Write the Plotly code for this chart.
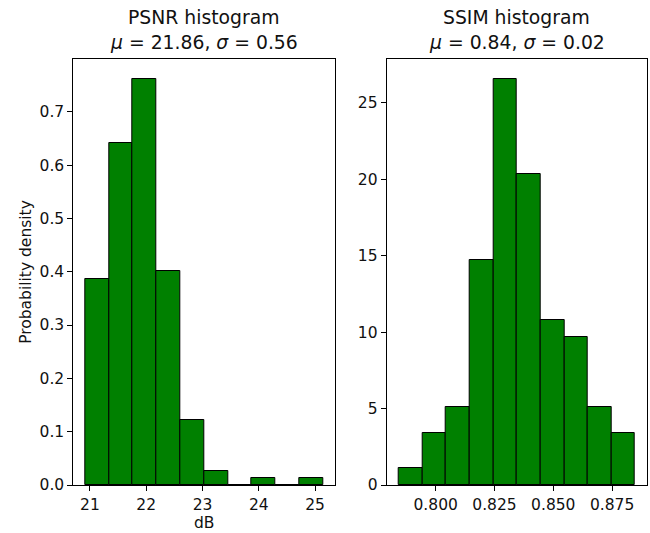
import plotly.graph_objects as go

# ---- data ----
psnr_edges = [20.916, 21.339, 21.761, 22.184, 22.606, 23.029, 23.452, 23.874, 24.297, 24.719, 25.142]
psnr_density = [0.387, 0.642, 0.761, 0.402, 0.121, 0.027, 0.0, 0.013, 0.0, 0.013]
ssim_edges = [0.7842, 0.7944, 0.8043, 0.8144, 0.8245, 0.8346, 0.8446, 0.8547, 0.8647, 0.8749, 0.8846]
ssim_density = [1.13, 3.38, 5.10, 14.69, 26.53, 20.34, 10.79, 9.66, 5.10, 3.38]
psnr_title = ["PSNR histogram", "<i>μ</i> = 21.86, <i>σ</i> = 0.56"]
ssim_title = ["SSIM histogram", "<i>μ</i> = 0.84, <i>σ</i> = 0.02"]
psnr_xticks = [21, 22, 23, 24, 25]
psnr_yticks = [0.0, 0.1, 0.2, 0.3, 0.4, 0.5, 0.6, 0.7]
ssim_xticks = [0.800, 0.825, 0.850, 0.875]
ssim_yticks = [0, 5, 10, 15, 20, 25]


def centers(edges):
    return [(a + b) / 2 for a, b in zip(edges[:-1], edges[1:])]


def widths(edges):
    return [b - a for a, b in zip(edges[:-1], edges[1:])]


W, H = 650, 533
FONT = "DejaVu Sans"
TICK = 15.5
TITLE = 18.8

fig = go.Figure()
fig.add_trace(go.Bar(x=centers(psnr_edges), y=psnr_density, width=widths(psnr_edges),
                     marker=dict(color="#008000", line=dict(color="black", width=1)),
                     xaxis="x", yaxis="y", showlegend=False))
fig.add_trace(go.Bar(x=centers(ssim_edges), y=ssim_density, width=widths(ssim_edges),
                     marker=dict(color="#008000", line=dict(color="black", width=1)),
                     xaxis="x2", yaxis="y2", showlegend=False))

ydom = [(H - 485) / H, (H - 59) / H]
axis_common = dict(showline=True, linecolor="black", linewidth=1, mirror=True,
                   ticks="outside", ticklen=5, tickwidth=1, tickcolor="black",
                   showgrid=False, zeroline=False, automargin=False,
                   tickfont=dict(family=FONT, size=TICK, color="#111"))

psnr_xmin = psnr_edges[0] - 0.05 * (psnr_edges[-1] - psnr_edges[0])
psnr_xmax = psnr_edges[-1] + 0.05 * (psnr_edges[-1] - psnr_edges[0])
ssim_xmin = ssim_edges[0] - 0.05 * (ssim_edges[-1] - ssim_edges[0])
ssim_xmax = ssim_edges[-1] + 0.05 * (ssim_edges[-1] - ssim_edges[0])

fig.update_layout(
    width=W, height=H,
    margin=dict(l=0, r=0, t=0, b=0, autoexpand=False),
    paper_bgcolor="white", plot_bgcolor="white",
    bargap=0,
    font=dict(family=FONT, color="#111"),
    xaxis=dict(domain=[73.3 / W, 335 / W], range=[psnr_xmin, psnr_xmax],
               tickvals=psnr_xticks, ticktext=[str(v) for v in psnr_xticks],
               anchor="y",
               title=dict(text="dB", font=dict(family=FONT, size=TICK), standoff=0),
               **axis_common),
    yaxis=dict(domain=ydom, range=[0, max(psnr_density) * 1.05],
               tickvals=psnr_yticks, ticktext=[f"{v:.1f}" for v in psnr_yticks],
               anchor="x",
               title=dict(text="Probability density", font=dict(family=FONT, size=TICK), standoff=4),
               **axis_common),
    xaxis2=dict(domain=[386.7 / W, 646.5 / W], range=[ssim_xmin, ssim_xmax],
                tickvals=ssim_xticks, ticktext=[f"{v:.3f}" for v in ssim_xticks],
                anchor="y2", **axis_common),
    yaxis2=dict(domain=ydom, range=[0, max(ssim_density) * 1.05],
                tickvals=ssim_yticks, ticktext=[str(v) for v in ssim_yticks],
                anchor="x2", **axis_common),
)

annots = []
for title, (a, b) in ((psnr_title, (73.3, 335)), (ssim_title, (386.7, 646.5))):
    cx = (a + b) / 2 / W
    annots.append(dict(text=title[0], x=cx, y=1 - 17 / H, xref="paper", yref="paper",
                       xanchor="center", yanchor="middle", showarrow=False,
                       font=dict(family=FONT, size=TITLE, color="#111")))
    annots.append(dict(text=title[1], x=cx, y=1 - 42 / H, xref="paper", yref="paper",
                       xanchor="center", yanchor="middle", showarrow=False,
                       font=dict(family=FONT, size=TITLE, color="#111")))
fig.update_layout(annotations=annots)

fig.write_html("out.html", config={"displayModeBar": False},
               post_script="document.body.style.margin='0px';document.body.style.overflow='hidden';")
